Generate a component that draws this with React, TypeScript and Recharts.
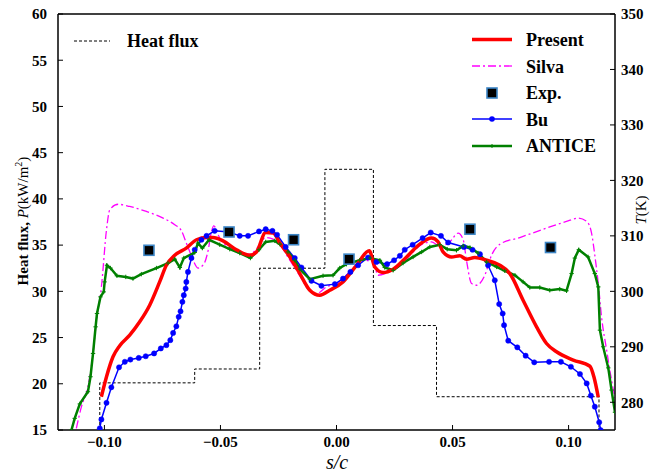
import React from "react";
import { ComposedChart, Line, Scatter, XAxis, YAxis, ReferenceLine } from "recharts";

// heat flux steps (left axis, kW/m2)
const heatFluxS = [-0.102, -0.102, -0.0611, -0.0611, -0.0331, -0.0331, -0.005, -0.005, 0.0159, 0.0159, 0.0431, 0.0431, 0.1131, 0.1131];
const heatFluxP = [15, 20.1, 20.1, 21.6, 21.6, 32.5, 32.5, 43.2, 43.2, 26.3, 26.3, 18.6, 18.6, 15];

// temperatures (right axis, K)
const presentS = [-0.1013, -0.0991, -0.0963, -0.0934, -0.0891, -0.0848, -0.0805, -0.0762, -0.0733, -0.0697, -0.0647, -0.0603, -0.056, -0.0532, -0.0489, -0.0431, -0.0374, -0.0345, -0.0305, -0.0273, -0.0244, -0.0201, -0.0158, -0.0115, -0.0072, -0.0029, 0.0028, 0.0086, 0.0141, 0.0165, 0.0201, 0.0244, 0.0302, 0.0359, 0.0409, 0.0438, 0.0459, 0.0496, 0.0531, 0.056, 0.0596, 0.0647, 0.0704, 0.0747, 0.0804, 0.0862, 0.0905, 0.0948, 0.102, 0.1092, 0.1109, 0.1128];
const presentT = [281.0, 284.6, 288.2, 290.2, 292.1, 294.5, 297.5, 301.7, 304.7, 306.5, 307.8, 309.3, 309.7, 309.7, 309.1, 307.5, 306.5, 307.1, 310.6, 310.5, 308.7, 306.2, 303.2, 300.2, 299.3, 300.2, 301.7, 304.7, 307.3, 304.4, 303.4, 304.0, 306.2, 308.5, 309.6, 308.9, 307.1, 306.2, 306.4, 305.8, 306.1, 305.6, 304.7, 303.2, 298.4, 293.6, 290.6, 289.1, 287.6, 286.5, 284.6, 280.9];

const silvaS = [-0.1121, -0.1099, -0.1071, -0.1049, -0.1034, -0.1013, -0.0991, -0.0977, -0.0941, -0.0891, -0.0819, -0.0747, -0.0697, -0.0668, -0.0647, -0.0625, -0.0597, -0.0572, -0.0553, -0.0539, -0.0529, -0.0503, -0.046, -0.0417, -0.0374, -0.0338, -0.0305, -0.0273, -0.0244, -0.0201, -0.0158, -0.0122, -0.0086, -0.0043, 0.0, 0.0057, 0.0115, 0.0158, 0.0179, 0.0222, 0.0266, 0.0316, 0.0366, 0.0409, 0.0445, 0.0488, 0.0524, 0.0546, 0.056, 0.0582, 0.0603, 0.0639, 0.0668, 0.0704, 0.079, 0.0905, 0.0991, 0.1041, 0.1078, 0.1099, 0.1113, 0.1128, 0.1142, 0.1164, 0.1185, 0.12];
const silvaT = [275.3, 279.2, 282.8, 288.8, 294.8, 300.8, 311.1, 314.7, 315.7, 315.3, 314.4, 313.2, 312.0, 310.9, 308.7, 306.4, 304.2, 304.9, 307.4, 310.7, 311.8, 309.6, 307.8, 307.0, 306.7, 308.0, 309.7, 309.4, 308.4, 305.6, 302.8, 300.4, 299.6, 300.8, 301.4, 303.5, 305.6, 305.3, 302.9, 303.4, 304.4, 306.5, 308.4, 308.9, 308.2, 308.9, 310.5, 309.3, 305.6, 301.4, 301.1, 302.9, 306.5, 308.5, 309.7, 311.4, 312.6, 313.2, 312.6, 310.5, 306.5, 301.4, 295.4, 289.4, 284.0, 280.8];

const buS = [-0.102, -0.1013, -0.0991, -0.097, -0.0937, -0.0912, -0.0888, -0.0852, -0.0822, -0.0786, -0.0757, -0.0733, -0.0716, -0.0704, -0.069, -0.068, -0.0672, -0.0664, -0.0658, -0.065, -0.0647, -0.064, -0.0625, -0.0611, -0.0582, -0.056, -0.0525, -0.0463, -0.0417, -0.0381, -0.0334, -0.0305, -0.0276, -0.0256, -0.0219, -0.018, -0.0151, -0.0108, -0.0065, -0.0007, 0.0028, 0.006, 0.0093, 0.0136, 0.0172, 0.0218, 0.0248, 0.0273, 0.0294, 0.0328, 0.0371, 0.0406, 0.045, 0.0481, 0.0549, 0.0586, 0.0618, 0.0653, 0.0682, 0.0701, 0.0716, 0.0722, 0.074, 0.0779, 0.0815, 0.0852, 0.0916, 0.0967, 0.101, 0.1049, 0.1078, 0.1096, 0.1113, 0.1132, 0.1138];
const buT = [275.3, 276.9, 279.9, 282.7, 286.3, 287.3, 287.7, 288.0, 288.3, 288.8, 289.7, 290.3, 291.2, 292.5, 293.7, 295.4, 296.4, 298.1, 299.3, 300.5, 301.7, 303.5, 306.0, 307.5, 309.3, 310.0, 310.9, 310.7, 310.0, 310.0, 310.8, 311.2, 310.9, 310.2, 308.0, 306.0, 304.3, 301.9, 301.0, 301.3, 302.3, 303.5, 304.7, 306.1, 305.3, 304.9, 305.6, 306.4, 307.5, 308.4, 309.6, 310.6, 310.0, 308.8, 308.0, 307.5, 306.7, 304.7, 302.0, 297.7, 296.0, 293.9, 291.1, 289.9, 288.4, 287.2, 287.3, 287.3, 286.4, 285.1, 283.4, 281.2, 279.2, 276.4, 275.0];

const anticeS = [-0.1142, -0.1128, -0.1106, -0.1071, -0.106, -0.1049, -0.1038, -0.1032, -0.1017, -0.1003, -0.0999, -0.0989, -0.0974, -0.0946, -0.0908, -0.0877, -0.0841, -0.0776, -0.0726, -0.0697, -0.0675, -0.0658, -0.0611, -0.0597, -0.0578, -0.0549, -0.0503, -0.046, -0.0417, -0.0371, -0.0334, -0.0305, -0.0266, -0.0244, -0.0209, -0.018, -0.0158, -0.0115, -0.0058, -0.0015, 0.0014, 0.0043, 0.01, 0.0144, 0.0187, 0.0208, 0.0244, 0.0287, 0.033, 0.0367, 0.0402, 0.0445, 0.0477, 0.0517, 0.0546, 0.0575, 0.061, 0.0647, 0.069, 0.0725, 0.0769, 0.0804, 0.0833, 0.0876, 0.0919, 0.0962, 0.0991, 0.1013, 0.1027, 0.1044, 0.1084, 0.1113, 0.1128, 0.1135, 0.1149, 0.1171, 0.1185, 0.12];
const anticeT = [275.0, 277.1, 279.7, 281.9, 284.6, 288.8, 293.6, 296.0, 299.0, 299.9, 301.7, 304.7, 304.2, 302.8, 302.6, 302.3, 303.1, 304.2, 305.1, 305.8, 304.3, 306.0, 307.0, 308.7, 307.8, 309.3, 308.4, 307.6, 306.9, 306.0, 307.5, 308.9, 309.1, 308.5, 307.1, 305.6, 304.0, 302.2, 302.8, 302.9, 304.2, 304.9, 305.6, 306.0, 305.6, 304.3, 303.8, 305.1, 306.2, 307.1, 308.0, 308.4, 307.6, 307.4, 308.2, 307.9, 306.9, 305.3, 304.4, 303.7, 302.9, 301.7, 300.7, 300.7, 300.2, 300.4, 300.1, 303.2, 306.0, 307.5, 306.2, 303.2, 300.8, 293.0, 290.0, 286.2, 282.2, 278.2];

const expS = [-0.0808, -0.0463, -0.0185, 0.0054, 0.0575, 0.0922];
const expT = [307.4, 310.7, 309.3, 305.8, 311.2, 307.9];

const xTicks = [-0.1, -0.05, 0, 0.05, 0.1];
const leftTicks = [15, 20, 25, 30, 35, 40, 45, 50, 55, 60];
const rightTicks = [280, 290, 300, 310, 320, 330, 340, 350];

const zip = (s: number[], v: number[]) => s.map((x, i) => ({ x, v: v[i] }));

const FONT = "Liberation Serif";
const tickStyle = { fontFamily: FONT, fontWeight: 700, fontSize: 15, fill: "#000" };

const fmtX = (v: number) => (v < 0 ? "\u2212" : "") + Math.abs(v).toFixed(2);

const PlusDot = (p: any) => {
  const { cx, cy, index } = p;
  if (cx == null || cy == null) return <g key={`a${index}`} />;
  return (
    <path
      key={`a${index}`}
      d={`M${cx - 2.2},${cy}h4.4M${cx},${cy - 2.2}v4.4`}
      stroke="#008000"
      strokeWidth={1}
    />
  );
};

const ExpSquare = (p: any) => (
  <rect x={p.cx - 5} y={p.cy - 5} width={10} height={10} fill="#000" stroke="#3d86c6" strokeWidth={1.6} />
);

const Legend = () => (
  <svg width={660} height={474} style={{ position: "absolute", left: 0, top: 0, pointerEvents: "none" }}>
    <g fontFamily={FONT} fontWeight={700} fontSize={18} fill="#000">
      <line x1={74} x2={110} y1={41} y2={41} stroke="#000" strokeDasharray="3 2" strokeWidth={1} />
      <text x={127} y={47}>Heat flux</text>

      <line x1={472} x2={512} y1={39.5} y2={39.5} stroke="#ff0000" strokeWidth={3.5} />
      <text x={526} y={46}>Present</text>

      <line x1={472} x2={512} y1={66} y2={66} stroke="#ff00ff" strokeWidth={1.3} strokeDasharray="8 3 2 3" />
      <text x={526} y={72.5}>Silva</text>

      <rect x={487} y={88} width={10} height={10} fill="#000" stroke="#3d86c6" strokeWidth={1.6} />
      <text x={526} y={99}>Exp.</text>

      <line x1={472} x2={512} y1={119} y2={119} stroke="#0000ff" strokeWidth={1.5} />
      <circle cx={492} cy={119} r={2.8} fill="#0000ff" />
      <text x={526} y={125.5}>Bu</text>

      <line x1={472} x2={512} y1={146} y2={146} stroke="#008000" strokeWidth={2.5} />
      <path d="M490,146h4M492,144v4" stroke="#008000" strokeWidth={1} />
      <text x={526} y={152}>ANTICE</text>
    </g>
  </svg>
);

export default function App() {
  return (
    <div style={{ position: "absolute", left: 0, top: 0, width: 660, height: 474, background: "#fff" }}>
      <ComposedChart width={660} height={474} margin={{ top: 14, right: 0, bottom: 0, left: 0 }}>
        <XAxis
          dataKey="x"
          type="number"
          domain={[-0.12, 0.12]}
          ticks={xTicks}
          allowDataOverflow
          tickFormatter={fmtX}
          tick={tickStyle}
          tickSize={-5}
          tickMargin={11}
          height={44}
          axisLine={{ stroke: "#000", strokeWidth: 1.5 }}
          tickLine={{ stroke: "#000" }}
          label={{
            content: () => (
              <text x={337} y={469} textAnchor="middle" fontFamily={FONT} fontStyle="italic" fontSize={20} fill="#000">
                s/c
              </text>
            ),
          }}
        />
        <YAxis
          yAxisId="left"
          type="number"
          domain={[15, 60]}
          ticks={leftTicks}
          allowDataOverflow
          width={58}
          tick={tickStyle}
          tickSize={-5}
          tickMargin={16}
          axisLine={{ stroke: "#000", strokeWidth: 1.5 }}
          tickLine={{ stroke: "#000" }}
          label={{
            content: () => (
              <text transform="translate(28,221) rotate(-90)" textAnchor="middle" fontFamily={FONT} fontSize={15} fill="#000">
                <tspan fontWeight={700}>Heat flux, </tspan>
                <tspan fontStyle="italic">P</tspan>
                <tspan>(kW/m</tspan>
                <tspan fontSize={10} dy={-6}>2</tspan>
                <tspan dy={6}>)</tspan>
              </text>
            ),
          }}
        />
        <YAxis
          yAxisId="right"
          orientation="right"
          type="number"
          domain={[275, 350]}
          ticks={rightTicks}
          allowDataOverflow
          width={45}
          tick={tickStyle}
          tickSize={-5}
          tickMargin={11}
          axisLine={{ stroke: "#000", strokeWidth: 1.5 }}
          tickLine={{ stroke: "#000" }}
          label={{
            content: () => (
              <text transform="translate(646,210) rotate(-90)" textAnchor="middle" fontFamily={FONT} fontSize={15} fill="#000">
                <tspan fontStyle="italic">T</tspan>
                <tspan>(K)</tspan>
              </text>
            ),
          }}
        />
        <ReferenceLine yAxisId="left" y={60} stroke="#000" strokeWidth={1.5} />

        <Line
          yAxisId="left"
          data={zip(heatFluxS, heatFluxP)}
          dataKey="v"
          type="linear"
          stroke="#000"
          strokeWidth={1}
          strokeDasharray="3 2"
          dot={false}
          isAnimationActive={false}
        />
        <Line
          yAxisId="right"
          data={zip(silvaS, silvaT)}
          dataKey="v"
          type="monotone"
          stroke="#ff00ff"
          strokeWidth={1.3}
          strokeDasharray="8 3 2 3"
          dot={false}
          isAnimationActive={false}
        />
        <Line
          yAxisId="right"
          data={zip(buS, buT)}
          dataKey="v"
          type="linear"
          stroke="#0000ff"
          strokeWidth={1.5}
          dot={{ r: 2.6, fill: "#0000ff", stroke: "#0000ff", strokeWidth: 0.5 }}
          isAnimationActive={false}
        />
        <Line
          yAxisId="right"
          data={zip(anticeS, anticeT)}
          dataKey="v"
          type="linear"
          stroke="#008000"
          strokeWidth={2.5}
          dot={PlusDot}
          isAnimationActive={false}
        />
        <Line
          yAxisId="right"
          data={zip(presentS, presentT)}
          dataKey="v"
          type="monotone"
          stroke="#ff0000"
          strokeWidth={3.5}
          dot={false}
          isAnimationActive={false}
        />
        <Scatter
          yAxisId="right"
          data={zip(expS, expT)}
          dataKey="v"
          shape={ExpSquare}
          isAnimationActive={false}
        />
      </ComposedChart>
      <Legend />
    </div>
  );
}
